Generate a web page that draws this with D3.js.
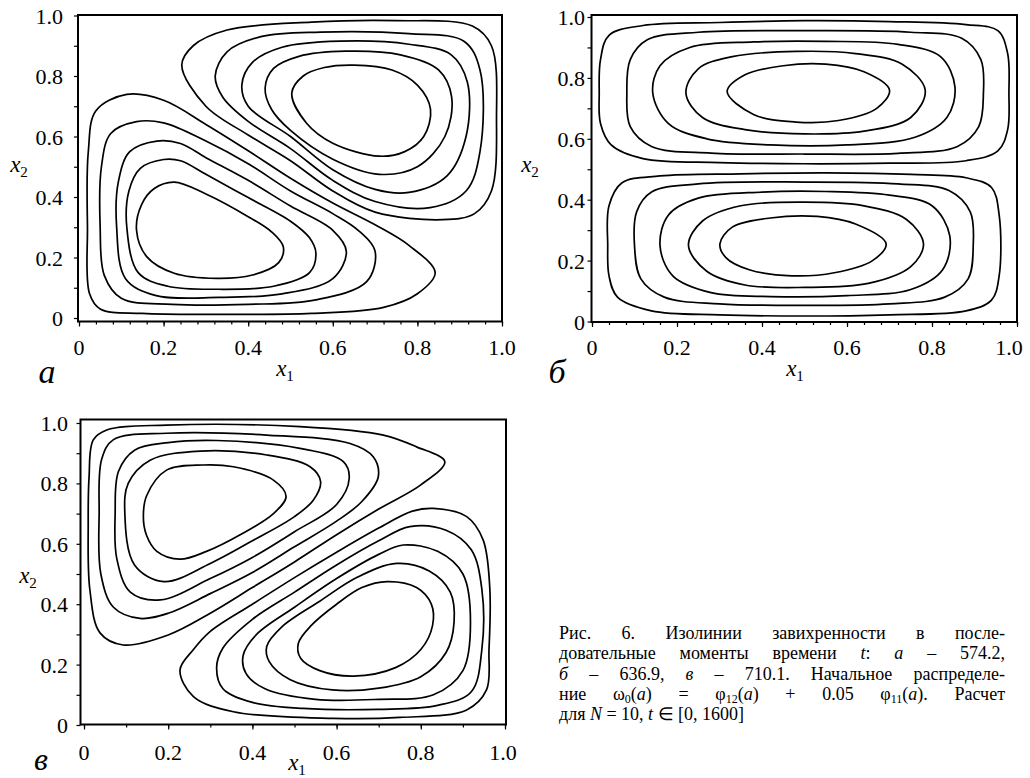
<!DOCTYPE html>
<html>
<head>
<meta charset="utf-8">
<script src="https://cdn.jsdelivr.net/npm/d3@7"></script>
<style>
  body { margin: 0; background: #fff; }
</style>
</head>
<body>
<svg id="fig" width="1030" height="778"></svg>
<script>
// tick values and labels shared by all three panels
const tickValues = [0, 0.2, 0.4, 0.6, 0.8, 1.0];
const tickLabels = ['0', '0.2', '0.4', '0.6', '0.8', '1.0'];

// panel а: lower-left vortex, inner -> outer
const aLower = [
  [[0.136,0.29],[0.148,0.375],[0.178,0.428],[0.225,0.449],[0.30,0.41],[0.40,0.335],[0.455,0.285],[0.483,0.235],[0.472,0.183],[0.41,0.142],[0.325,0.131],[0.225,0.148],[0.16,0.203]],
  [[0.113,0.30],[0.118,0.42],[0.145,0.495],[0.20,0.524],[0.24,0.52],[0.30,0.475],[0.40,0.398],[0.50,0.32],[0.545,0.265],[0.56,0.215],[0.545,0.15],[0.46,0.105],[0.33,0.095],[0.21,0.105],[0.14,0.15]],
  [[0.089,0.30],[0.093,0.45],[0.12,0.55],[0.184,0.585],[0.24,0.577],[0.30,0.53],[0.40,0.455],[0.50,0.37],[0.60,0.29],[0.632,0.22],[0.60,0.13],[0.48,0.08],[0.33,0.068],[0.18,0.075],[0.11,0.13]],
  [[0.05,0.30],[0.053,0.50],[0.075,0.61],[0.136,0.649],[0.20,0.645],[0.30,0.585],[0.40,0.51],[0.50,0.42],[0.60,0.345],[0.66,0.29],[0.70,0.22],[0.68,0.12],[0.56,0.06],[0.40,0.045],[0.22,0.045],[0.10,0.065],[0.06,0.14]],
  [[0.020,0.30],[0.022,0.55],[0.04,0.685],[0.113,0.739],[0.20,0.72],[0.30,0.64],[0.40,0.553],[0.50,0.462],[0.60,0.38],[0.70,0.308],[0.78,0.24],[0.842,0.15],[0.80,0.08],[0.72,0.035],[0.55,0.015],[0.35,0.012],[0.15,0.015],[0.05,0.03],[0.025,0.08]]
];
// panel а: upper-right vortex, inner -> outer
const aUpper = [
  [[0.503,0.743],[0.53,0.80],[0.58,0.828],[0.65,0.836],[0.74,0.82],[0.80,0.77],[0.831,0.69],[0.815,0.60],[0.77,0.55],[0.71,0.535],[0.60,0.578],[0.538,0.644]],
  [[0.44,0.76],[0.46,0.825],[0.52,0.865],[0.63,0.882],[0.76,0.87],[0.85,0.82],[0.881,0.73],[0.865,0.60],[0.80,0.50],[0.71,0.475],[0.60,0.525],[0.50,0.62],[0.455,0.69]],
  [[0.385,0.77],[0.41,0.845],[0.48,0.895],[0.617,0.915],[0.78,0.905],[0.88,0.87],[0.918,0.78],[0.915,0.60],[0.87,0.47],[0.78,0.415],[0.70,0.425],[0.60,0.49],[0.50,0.60],[0.40,0.70]],
  [[0.322,0.80],[0.35,0.88],[0.43,0.93],[0.57,0.945],[0.78,0.94],[0.91,0.915],[0.948,0.82],[0.948,0.55],[0.915,0.42],[0.83,0.365],[0.70,0.385],[0.60,0.455],[0.50,0.56],[0.40,0.65],[0.34,0.73]],
  [[0.243,0.836],[0.27,0.90],[0.35,0.952],[0.55,0.978],[0.75,0.983],[0.93,0.965],[0.975,0.90],[0.987,0.66],[0.975,0.42],[0.935,0.345],[0.86,0.325],[0.70,0.35],[0.60,0.42],[0.50,0.52],[0.40,0.605],[0.30,0.70]]
];

// panel б: upper and lower cells, inner -> outer
const bUpper = [
  [[0.318,0.755],[0.36,0.81],[0.45,0.84],[0.55,0.845],[0.64,0.82],[0.70,0.76],[0.67,0.70],[0.58,0.66],[0.48,0.655],[0.38,0.68]],
  [[0.221,0.75],[0.25,0.83],[0.33,0.87],[0.48,0.887],[0.62,0.88],[0.73,0.845],[0.784,0.76],[0.75,0.67],[0.64,0.625],[0.50,0.616],[0.36,0.63],[0.26,0.67]],
  [[0.143,0.75],[0.16,0.84],[0.23,0.90],[0.38,0.918],[0.55,0.92],[0.72,0.91],[0.82,0.87],[0.854,0.77],[0.835,0.67],[0.76,0.605],[0.60,0.58],[0.42,0.58],[0.27,0.60],[0.18,0.65]],
  [[0.082,0.75],[0.09,0.86],[0.13,0.925],[0.25,0.95],[0.50,0.955],[0.75,0.95],[0.87,0.93],[0.915,0.86],[0.921,0.75],[0.91,0.64],[0.86,0.575],[0.72,0.552],[0.50,0.55],[0.28,0.553],[0.14,0.575],[0.09,0.64]],
  [[0.017,0.75],[0.02,0.86],[0.04,0.94],[0.12,0.972],[0.30,0.982],[0.50,0.988],[0.70,0.985],[0.88,0.975],[0.955,0.955],[0.978,0.88],[0.981,0.75],[0.978,0.63],[0.955,0.56],[0.88,0.528],[0.70,0.52],[0.50,0.518],[0.30,0.522],[0.12,0.535],[0.045,0.58],[0.02,0.65]]
];
const bLower = [
  [[0.301,0.255],[0.33,0.31],[0.42,0.34],[0.53,0.345],[0.62,0.32],[0.692,0.255],[0.66,0.20],[0.57,0.16],[0.47,0.15],[0.37,0.17],[0.315,0.21]],
  [[0.227,0.25],[0.26,0.33],[0.35,0.38],[0.50,0.392],[0.64,0.38],[0.74,0.335],[0.78,0.255],[0.75,0.18],[0.65,0.125],[0.50,0.112],[0.36,0.12],[0.27,0.165]],
  [[0.16,0.25],[0.18,0.35],[0.25,0.405],[0.40,0.425],[0.55,0.427],[0.70,0.415],[0.80,0.38],[0.842,0.28],[0.825,0.17],[0.75,0.105],[0.60,0.085],[0.42,0.082],[0.28,0.095],[0.19,0.15]],
  [[0.10,0.25],[0.105,0.36],[0.14,0.425],[0.25,0.452],[0.50,0.458],[0.72,0.452],[0.84,0.43],[0.89,0.36],[0.897,0.25],[0.885,0.14],[0.83,0.08],[0.70,0.058],[0.50,0.053],[0.30,0.058],[0.17,0.08],[0.115,0.14]],
  [[0.037,0.25],[0.04,0.38],[0.07,0.455],[0.16,0.478],[0.35,0.485],[0.55,0.488],[0.75,0.483],[0.88,0.472],[0.94,0.44],[0.958,0.35],[0.958,0.15],[0.94,0.07],[0.88,0.035],[0.70,0.022],[0.50,0.018],[0.30,0.022],[0.14,0.035],[0.06,0.08],[0.04,0.15]]
];

// panel в: upper-left vortex and lower-right vortex, inner -> outer
const cUpper = [
  [[0.141,0.69],[0.149,0.76],[0.196,0.844],[0.283,0.861],[0.355,0.855],[0.45,0.811],[0.48,0.757],[0.45,0.70],[0.371,0.63],[0.291,0.575],[0.228,0.549],[0.173,0.575],[0.148,0.63]],
  [[0.097,0.70],[0.105,0.80],[0.157,0.877],[0.276,0.907],[0.434,0.894],[0.537,0.855],[0.562,0.806],[0.545,0.745],[0.50,0.69],[0.40,0.61],[0.30,0.535],[0.19,0.475],[0.12,0.53]],
  [[0.074,0.70],[0.082,0.84],[0.12,0.91],[0.20,0.935],[0.315,0.942],[0.513,0.916],[0.616,0.872],[0.630,0.817],[0.60,0.73],[0.50,0.64],[0.40,0.555],[0.30,0.485],[0.181,0.414],[0.11,0.44],[0.078,0.55]],
  [[0.036,0.70],[0.042,0.88],[0.07,0.945],[0.196,0.966],[0.434,0.96],[0.632,0.932],[0.687,0.888],[0.699,0.822],[0.66,0.74],[0.60,0.675],[0.50,0.59],[0.40,0.505],[0.30,0.435],[0.20,0.37],[0.133,0.353],[0.07,0.39],[0.04,0.50]],
  [[0.010,0.668],[0.012,0.82],[0.022,0.944],[0.054,0.977],[0.196,0.993],[0.513,0.988],[0.711,0.96],[0.79,0.921],[0.857,0.872],[0.80,0.795],[0.70,0.715],[0.60,0.63],[0.50,0.54],[0.40,0.455],[0.30,0.37],[0.20,0.298],[0.093,0.265],[0.038,0.305],[0.014,0.447]]
];
const cLower = [
  [[0.509,0.27],[0.54,0.33],[0.60,0.40],[0.66,0.455],[0.72,0.475],[0.79,0.455],[0.825,0.40],[0.828,0.33],[0.80,0.25],[0.74,0.19],[0.64,0.162],[0.56,0.18],[0.515,0.22]],
  [[0.434,0.26],[0.47,0.325],[0.56,0.41],[0.65,0.49],[0.743,0.535],[0.82,0.51],[0.87,0.44],[0.879,0.34],[0.86,0.24],[0.80,0.16],[0.70,0.122],[0.59,0.116],[0.49,0.15],[0.44,0.21]],
  [[0.378,0.23],[0.41,0.30],[0.50,0.39],[0.60,0.485],[0.70,0.565],[0.758,0.596],[0.84,0.575],[0.90,0.50],[0.918,0.34],[0.90,0.18],[0.83,0.10],[0.70,0.085],[0.55,0.085],[0.43,0.12],[0.385,0.17]],
  [[0.315,0.19],[0.33,0.255],[0.40,0.35],[0.50,0.44],[0.60,0.53],[0.70,0.61],[0.774,0.657],[0.86,0.645],[0.92,0.58],[0.945,0.45],[0.945,0.25],[0.92,0.11],[0.84,0.065],[0.70,0.052],[0.52,0.055],[0.40,0.075],[0.33,0.12]],
  [[0.228,0.182],[0.26,0.25],[0.30,0.31],[0.40,0.40],[0.50,0.488],[0.60,0.572],[0.70,0.652],[0.78,0.708],[0.83,0.717],[0.909,0.69],[0.948,0.613],[0.964,0.45],[0.962,0.25],[0.956,0.116],[0.909,0.05],[0.75,0.025],[0.592,0.022],[0.355,0.044],[0.26,0.094]]
];

// caption pieces: [text, kind] where kind is italic or subscript
const captionLines = [
  [['Рис. 6. Изолинии завихренности в после-']],
  [['довательные моменты времени '], ['t', 'i'], [': '], ['а', 'i'], [' – 574.2,']],
  [['б', 'i'], [' – 636.9, '], ['в', 'i'], [' – 710.1. Начальное распределе-']],
  [['ние ω'], ['0', 'sub'], ['('], ['a', 'i'], [') = φ'], ['12', 'sub'], ['('], ['a', 'i'], [') + 0.05 φ'], ['11', 'sub'], ['('], ['a', 'i'], ['). Расчет']],
  [['для '], ['N', 'i'], [' = 10, '], ['t', 'i'], [' ∈ [0, 1600]']]
];

// take the first family that is really installed (serif first, then a narrow sans)
function pickFont(cands) {
  const ctx = document.createElement('canvas').getContext('2d');
  const sample = 'Рис. 0.2468 abcxyz завихренности';
  for (const f of cands) {
    ctx.font = '20px monospace';
    const w0 = ctx.measureText(sample).width;
    ctx.font = '20px "' + f + '", monospace';
    const w1 = ctx.measureText(sample).width;
    if (Math.abs(w1 - w0) > 0.5) return f;
  }
  return 'DejaVu Sans';
}
const face = pickFont(['Liberation Serif', 'Times New Roman', 'DejaVu Serif', 'Noto Serif', 'Liberation Sans', 'Arimo', 'Noto Sans']);

const svg = d3.select('#fig').attr('font-family', '"' + face + '", serif');

const panels = [
  { curves: aLower.concat(aUpper), xr: [79, 502], yr: [318, 15.5], frame: [78, 15, 502, 321.5],
    minor: 0.04, ylabX: 63, xlabY: 355, lastDx: 0, letter: 'а', letterXY: [47, 383], letterSize: 34,
    x1XY: [285, 376], x2XY: [19, 172] },
  { curves: bUpper.concat(bLower), xr: [592, 1017], yr: [321.5, 17], frame: [591.5, 15, 1017, 322],
    minor: 0.04, ylabX: 585, xlabY: 355, lastDx: -8, letter: 'б', letterXY: [557, 383], letterSize: 34,
    x1XY: [795, 376], x2XY: [530, 172] },
  { curves: cUpper.concat(cLower), xr: [84, 505], yr: [725, 423], frame: [80.5, 419.5, 506, 724.5],
    minor: 0.1, ylabX: 68, xlabY: 760, lastDx: -2, letter: 'в', letterXY: [41, 770], letterSize: 32,
    x1XY: [297, 770], x2XY: [28, 583] }
];

panels.forEach((p) => {
  const x = d3.scaleLinear().domain([0, 1]).range(p.xr);
  const y = d3.scaleLinear().domain([0, 1]).range(p.yr);
  const g = svg.append('g');

  const line = d3
    .line()
    .x((d) => x(d[0]))
    .y((d) => y(d[1]))
    .curve(d3.curveCatmullRomClosed.alpha(0.5));

  g.selectAll('path.iso')
    .data(p.curves)
    .join('path')
    .attr('class', 'iso')
    .attr('d', line)
    .attr('fill', 'none')
    .attr('stroke', '#000')
    .attr('stroke-width', 1.7);

  const [fx0, fy0, fx1, fy1] = p.frame;
  g.append('rect')
    .attr('x', fx0)
    .attr('y', fy0)
    .attr('width', fx1 - fx0)
    .attr('height', fy1 - fy0)
    .attr('fill', 'none')
    .attr('stroke', '#000')
    .attr('stroke-width', 2);

  // y ticks every 0.1 on the left side
  const yAxis = d3.axisLeft(y).tickValues(d3.range(0, 1.001, 0.1)).tickSize(4).tickFormat('');
  g.append('g').attr('transform', 'translate(' + fx0 + ',0)').call(yAxis)
    .call((s) => s.select('.domain').remove())
    .selectAll('line').attr('stroke-width', 1.2);

  // x ticks: minor and major
  const nMinor = Math.round(1 / p.minor);
  const xMinor = d3.axisBottom(x).tickValues(d3.range(0, nMinor + 1).map((i) => i * p.minor)).tickSize(3).tickFormat('');
  const xMajor = d3.axisBottom(x).tickValues(tickValues).tickSize(5).tickFormat('');
  [xMinor, xMajor].forEach((ax) => {
    g.append('g').attr('transform', 'translate(0,' + fy1 + ')').call(ax)
      .call((s) => s.select('.domain').remove())
      .selectAll('line').attr('stroke-width', 1.2);
  });

  // tick labels
  g.selectAll('text.ylab')
    .data(tickValues)
    .join('text')
    .attr('class', 'ylab')
    .attr('x', p.ylabX)
    .attr('y', (d) => y(d) + 8)
    .attr('text-anchor', 'end')
    .attr('font-size', 22)
    .text((d, i) => tickLabels[i]);

  g.selectAll('text.xlab')
    .data(tickValues)
    .join('text')
    .attr('class', 'xlab')
    .attr('x', (d, i) => x(d) + (i === tickValues.length - 1 ? p.lastDx : 0))
    .attr('y', p.xlabY)
    .attr('text-anchor', 'middle')
    .attr('font-size', 22)
    .text((d, i) => tickLabels[i]);

  // axis names
  [['x', '1', p.x1XY], ['x', '2', p.x2XY]].forEach(([v, s, pos]) => {
    const t = g.append('text').attr('x', pos[0]).attr('y', pos[1]).attr('text-anchor', 'middle');
    t.append('tspan').attr('font-style', 'italic').attr('font-size', 23).text(v);
    t.append('tspan').attr('font-size', 15).attr('dy', 5).text(s);
  });

  g.append('text')
    .attr('x', p.letterXY[0])
    .attr('y', p.letterXY[1])
    .attr('text-anchor', 'middle')
    .attr('font-style', 'italic')
    .attr('font-size', p.letterSize)
    .text(p.letter);
});

// caption, lines justified by word spacing
const capX = 559, capRight = 1005, capY0 = 639, capDy = 20.3;
captionLines.forEach((parts, li) => {
  const t = svg.append('text')
    .attr('x', capX)
    .attr('y', capY0 + li * capDy)
    .attr('font-size', 18)
    .attr('xml:space', 'preserve');
  let shift = 0;
  parts.forEach(([s, kind]) => {
    const ts = t.append('tspan').text(s);
    if (kind === 'i') ts.attr('font-style', 'italic');
    if (kind === 'sub') {
      ts.attr('font-size', 12).attr('dy', 3);
      shift = 3;
    } else if (shift) {
      ts.attr('dy', -shift);
      shift = 0;
    }
  });
  if (li < captionLines.length - 1) {
    const natural = t.node().getComputedTextLength();
    const spaces = parts.map((d) => d[0]).join('').split(' ').length - 1;
    t.attr('word-spacing', (capRight - capX - natural) / spaces);
  }
});
</script>
</body>
</html>
